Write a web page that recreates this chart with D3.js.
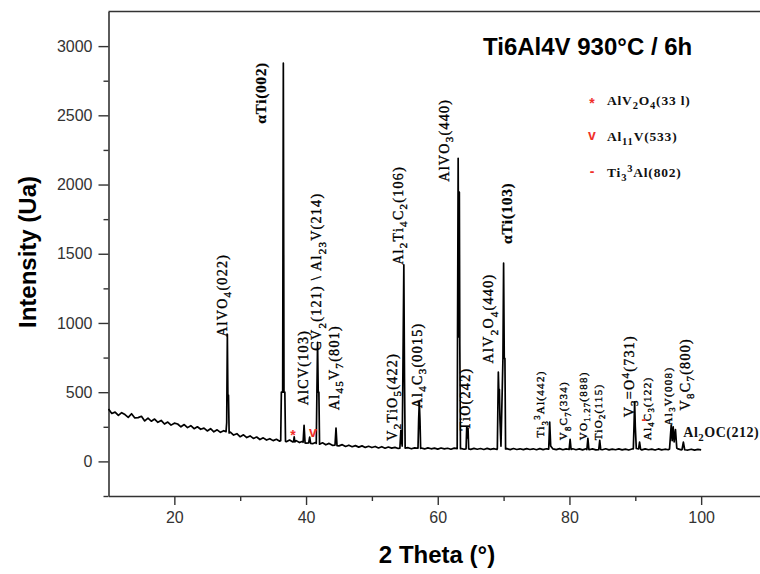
<!DOCTYPE html>
<html>
<head>
<meta charset="utf-8">
<script src="https://cdn.jsdelivr.net/npm/d3@7"></script>
<style>
body { margin: 0; background: #fff; }
</style>
</head>
<body>
<svg width="760" height="574"></svg>
<script>
// axis ticks
var xTicks = [20, 40, 60, 80, 100],
    xMinor = [30, 50, 70, 90],
    yTicks = [0, 500, 1000, 1500, 2000, 2500, 3000],
    yMinor = [-250, 250, 750, 1250, 1750, 2250, 2750];

// background of the pattern, read every 0.5 deg from 10 to 100
var baseStart = 10, baseStep = 0.5;
var baseInt = [
  378, 346, 356, 332, 352, 338, 318, 344, 314, 316,
  326, 292, 312, 290, 306, 282, 296, 270, 284, 262,
  276, 270, 250, 266, 244, 258, 236, 250, 232, 240,
  220, 236, 214, 228, 210, 222, 200, 212, 190, 200,
  178, 192, 172, 184, 166, 176, 158, 170, 154, 164,
  150, 160, 146, 156, 142, 154, 140, 150, 136, 146,
  132, 142, 128, 138, 124, 134, 120, 130, 116, 124,
  112, 121, 108, 117, 106, 114, 103, 112, 101, 109,
  100,
  108, 97, 106, 95, 104, 96, 101, 93, 100, 94,
  99, 91, 98, 92, 97, 90, 98, 91, 96, 89,
  97, 90, 95, 88, 96, 89, 94, 88, 95, 87,
  94, 88, 93, 86, 94, 87, 92, 86, 93, 87,
  92, 85, 93, 86, 91, 85, 92, 86, 91, 84,
  92, 85, 91, 84, 90, 85, 92, 84, 90, 85,
  91, 84, 90, 83, 91, 84, 90, 83, 89, 84,
  91, 83, 89, 84, 90, 83, 89, 82, 90, 84,
  91, 83, 90, 84, 89, 82, 90, 83, 88, 84,
  89, 82, 90, 83, 88, 82, 88, 81, 87, 83
];

// peak profiles [2theta, intensity]
var peakAlVO4 = [[27.85, 215], [27.95, 280], [28.05, 917], [28.13, 478], [28.22, 478], [28.32, 205]],
    peakTi002 = [[36.15, 150], [36.25, 500], [36.45, 500], [36.55, 2877], [36.65, 500], [36.78, 500], [36.88, 146]],
    peakSmall1 = [[38.1, 142], [38.2, 178], [38.3, 140]],
    peakAlCV = [[39.55, 138], [39.7, 260], [39.85, 134]],
    peakSmall2 = [[40.4, 134], [40.55, 175], [40.7, 130]],
    peakCV2 = [[41.55, 130], [41.65, 500], [41.75, 860], [41.85, 500], [41.95, 500], [42.05, 124]],
    peakAl45V7 = [[44.4, 118], [44.55, 240], [44.7, 114]],
    peakV2TiO5 = [[54.25, 96], [54.4, 224], [54.5, 150]],
    peakAl2Ti4C2 = [[54.6, 110], [54.7, 600], [54.85, 1420], [54.95, 600], [55.05, 96]],
    peakAl4C3 = [[57.0, 95], [57.1, 300], [57.2, 428], [57.3, 300], [57.4, 94]],
    peakAlVO3 = [[62.95, 92], [63.0, 838], [63.1, 2190], [63.2, 900], [63.28, 1945], [63.35, 838], [63.45, 92]],
    peakTiO = [[64.3, 91], [64.4, 248], [64.5, 170], [64.6, 240], [64.7, 90]],
    peakAlV2O4 = [[69.05, 93], [69.2, 645], [69.3, 464], [69.36, 520], [69.45, 300], [69.6, 110]],
    peakTi103 = [[69.9, 744], [70.0, 1432], [70.1, 744], [70.2, 744], [70.3, 90]],
    peakTi3Al = [[76.85, 88], [77.0, 284], [77.15, 112]],
    peakV8C7 = [[79.95, 86], [80.1, 160], [80.25, 86]],
    peakVO = [[82.65, 86], [82.8, 166], [82.95, 88]],
    peakTiO2 = [[84.45, 85], [84.6, 152], [84.75, 86]],
    peakV3O4 = [[89.7, 90], [89.8, 250], [89.9, 430], [90.0, 250], [90.15, 93]],
    peakSmall3 = [[90.5, 90], [90.65, 140], [90.8, 88]],
    peakAl3V = [[95.2, 90], [95.45, 260], [95.6, 150], [95.75, 250], [95.9, 140], [96.1, 230], [96.3, 96]],
    peakAl2OC = [[97.1, 86], [97.3, 139], [97.5, 84]];

var peaks = [peakAlVO4, peakTi002, peakSmall1, peakAlCV, peakSmall2, peakCV2, peakAl45V7,
  peakV2TiO5, peakAl2Ti4C2, peakAl4C3, peakAlVO3, peakTiO, peakAlV2O4, peakTi103,
  peakTi3Al, peakV8C7, peakVO, peakTiO2, peakV3O4, peakSmall3, peakAl3V, peakAl2OC];

// peak labels: text, 2theta of the label, intensity where the label starts
var labelText = ["AlVO_{4}(022)", "αTi(002)", "AlCV(103)", "CV_{2}(121) \\ Al_{23}V(214)", "Al_{45}V_{7}(801)",
  "V_{2}TiO_{5}(422)", "Al_{2}Ti_{4}C_{2}(106)", "Al_{4}C_{3}(0015)", "AlVO_{3}(440)", "TiO(242)",
  "AlV_{2}O_{4}(440)", "αTi(103)", "Ti_{3}^{3}Al(442)", "V_{8}C_{7}(334)", "VO_{1.27}(888)", "TiO_{2}(115)",
  "V_{3}=O^{4}(731)", "Al_{4}C_{3}(122)", "Al_{3}V(008)", "V_{8}C_{7}(800)"];
var labelTheta = [27.2, 33.1, 39.6, 41.6, 44.3, 53.1, 54.0, 56.9, 60.9, 64.2,
  67.7, 70.4, 75.6, 79.1, 82.1, 84.3, 89.0, 91.8, 95.0, 97.6];
var labelInt = [900, 2440, 405, 800, 370, 150, 1420, 383, 2020, 224,
  708, 1570, 173, 152, 152, 152, 318, 152, 260, 368];
var labelBold = ["αTi(002)", "αTi(103)"];
var labelSmall = ["Ti_{3}^{3}Al(442)", "V_{8}C_{7}(334)", "VO_{1.27}(888)", "TiO_{2}(115)", "Al_{4}C_{3}(122)", "Al_{3}V(008)"];

// horizontal label at the end of the pattern
var endLabel = "Al_{2}OC(212)", endTheta = 97.3, endInt = 175;

// red markers
var markerSymbol = ["*", "v", "-"],
    markerTheta = [38.0, 41.05, 91.3],
    markerInt = [215, 200, 303];

// legend
var legendSymbol = ["*", "v", "-"],
    legendText = ["AlV_{2}O_{4}(33 l)", "Al_{11}V(533)", "Ti_{3}^{3}Al(802)"];

var svg = d3.select("svg"),
    plotLeft = 108.5, plotBottom = 496, plotTop = 11.5, plotRight = 767;

var x = d3.scaleLinear().domain([10, 110]).range([plotLeft, plotRight]),
    y = d3.scaleLinear().domain([-250, 3250]).range([plotBottom, plotTop]);

// build the series: background points outside the peaks, plus the peak profiles
var series = [];
baseInt.forEach(function(v, i) {
  var t = baseStart + i * baseStep;
  var inside = peaks.some(function(p) { return t >= p[0][0] && t <= p[p.length - 1][0]; });
  if (!inside) series.push([t, v]);
});
peaks.forEach(function(p) { p.forEach(function(d) { series.push(d); }); });
series.sort(function(a, b) { return a[0] - b[0]; });

function rich(sel, str, size) {
  var parts = str.split(/(_\{[^}]*\}|\^\{[^}]*\})/),
      shift = 0;
  parts.forEach(function(p) {
    if (!p) return;
    var t = sel.append("tspan");
    if (p[0] == "_" && p[1] == "{") {
      t.text(p.slice(2, -1)).attr("font-size", size * 0.78).attr("dy", size * 0.3 - shift);
      shift = size * 0.3;
    } else if (p[0] == "^" && p[1] == "{") {
      t.text(p.slice(2, -1)).attr("font-size", size * 0.78).attr("dy", -size * 0.35 - shift);
      shift = -size * 0.35;
    } else {
      t.text(p).attr("dy", -shift);
      shift = 0;
    }
  });
}

// axes
var axisColor = "#333";
svg.append("g")
  .attr("transform", "translate(0," + plotBottom + ")")
  .call(d3.axisBottom(x).tickValues(xTicks).tickSize(9).tickPadding(7).tickSizeOuter(0))
  .call(function(g) {
    g.select(".domain").attr("stroke", axisColor).attr("stroke-width", 1.6);
    g.selectAll(".tick line").attr("stroke", axisColor).attr("stroke-width", 1.4);
    g.selectAll(".tick text").attr("fill", "#333").attr("font-size", 16)
      .attr("font-family", "Liberation Sans, Arial, sans-serif");
  });
svg.append("g")
  .attr("transform", "translate(0," + plotBottom + ")")
  .call(d3.axisBottom(x).tickValues(xMinor).tickSize(5).tickFormat("").tickSizeOuter(0))
  .call(function(g) {
    g.select(".domain").remove();
    g.selectAll(".tick line").attr("stroke", axisColor).attr("stroke-width", 1.4);
  });

svg.append("g")
  .attr("transform", "translate(" + plotLeft + ",0)")
  .call(d3.axisLeft(y).tickValues(yTicks).tickFormat(d3.format("d")).tickSize(10).tickPadding(6).tickSizeOuter(0))
  .call(function(g) {
    g.select(".domain").attr("stroke", axisColor).attr("stroke-width", 1.6);
    g.selectAll(".tick line").attr("stroke", axisColor).attr("stroke-width", 1.4);
    g.selectAll(".tick text").attr("fill", "#333").attr("font-size", 16)
      .attr("font-family", "Liberation Sans, Arial, sans-serif");
  });
svg.append("g")
  .attr("transform", "translate(" + plotLeft + ",0)")
  .call(d3.axisLeft(y).tickValues(yMinor).tickSize(5).tickFormat("").tickSizeOuter(0))
  .call(function(g) {
    g.select(".domain").remove();
    g.selectAll(".tick line").attr("stroke", axisColor).attr("stroke-width", 1.4);
  });

// top frame
svg.append("line")
  .attr("x1", plotLeft).attr("x2", plotRight).attr("y1", plotTop).attr("y2", plotTop)
  .attr("stroke", axisColor).attr("stroke-width", 1.6);

// pattern
svg.append("path")
  .datum(series)
  .attr("fill", "none")
  .attr("stroke", "#000")
  .attr("stroke-width", 1.7)
  .attr("stroke-linejoin", "round")
  .attr("d", d3.line().x(function(d) { return x(d[0]); }).y(function(d) { return y(d[1]); }));

// peak labels
labelText.forEach(function(s, i) {
  var bold = labelBold.indexOf(s) >= 0,
      size = bold ? 15.5 : (labelSmall.indexOf(s) >= 0 ? 11 : 14);
  var t = svg.append("text")
    .attr("transform", "translate(" + (x(labelTheta[i]) + size * 0.35) + "," + y(labelInt[i]) + ") rotate(-90)")
    .attr("font-family", "Liberation Serif, Times New Roman, serif")
    .attr("font-size", size)
    .attr("font-weight", bold ? "bold" : "normal")
    .attr("letter-spacing", bold ? 0.6 : 1.3)
    .attr("fill", "#000")
    .attr("stroke", "#000")
    .attr("stroke-width", bold ? 0.2 : 0.35);
  rich(t, s, size);
});

var endT = svg.append("text")
  .attr("x", x(endTheta)).attr("y", y(endInt))
  .attr("font-family", "Liberation Serif, Times New Roman, serif")
  .attr("font-size", 14).attr("font-weight", "bold").attr("letter-spacing", 0.5)
  .attr("fill", "#111");
rich(endT, endLabel, 14);

// red markers
var markerDy = { "*": "0.6em", "v": "0.25em", "-": "0.3em" };
markerSymbol.forEach(function(s, i) {
  svg.append("text")
    .attr("x", x(markerTheta[i])).attr("y", y(markerInt[i]))
    .attr("dy", markerDy[s])
    .attr("text-anchor", "middle")
    .attr("font-family", "Liberation Sans, Arial, sans-serif")
    .attr("font-size", 14).attr("font-weight", "bold")
    .attr("fill", "#f0302a")
    .text(s);
});

// legend
legendSymbol.forEach(function(s, i) {
  var ly = 105 + i * 36;
  svg.append("text")
    .attr("x", 592).attr("y", ly - 5)
    .attr("dy", markerDy[s])
    .attr("text-anchor", "middle")
    .attr("font-family", "Liberation Sans, Arial, sans-serif")
    .attr("font-size", 14).attr("font-weight", "bold")
    .attr("fill", "#f0302a")
    .text(s);
  var t = svg.append("text")
    .attr("x", 607).attr("y", ly)
    .attr("font-family", "Liberation Serif, Times New Roman, serif")
    .attr("font-size", 13.5).attr("font-weight", "bold").attr("letter-spacing", 0.8)
    .attr("fill", "#111");
  rich(t, legendText[i], 13.5);
});

// titles
svg.append("text")
  .attr("x", 483).attr("y", 55)
  .attr("font-family", "Liberation Sans, Arial, sans-serif")
  .attr("font-size", 24).attr("font-weight", "bold")
  .text("Ti6Al4V 930°C / 6h");

svg.append("text")
  .attr("transform", "translate(36,252) rotate(-90)")
  .attr("text-anchor", "middle")
  .attr("font-family", "Liberation Sans, Arial, sans-serif")
  .attr("font-size", 24).attr("font-weight", "bold")
  .text("Intensity (Ua)");

svg.append("text")
  .attr("x", 437).attr("y", 563)
  .attr("text-anchor", "middle")
  .attr("font-family", "Liberation Sans, Arial, sans-serif")
  .attr("font-size", 24).attr("font-weight", "bold")
  .text("2 Theta (°)");
</script>
</body>
</html>
